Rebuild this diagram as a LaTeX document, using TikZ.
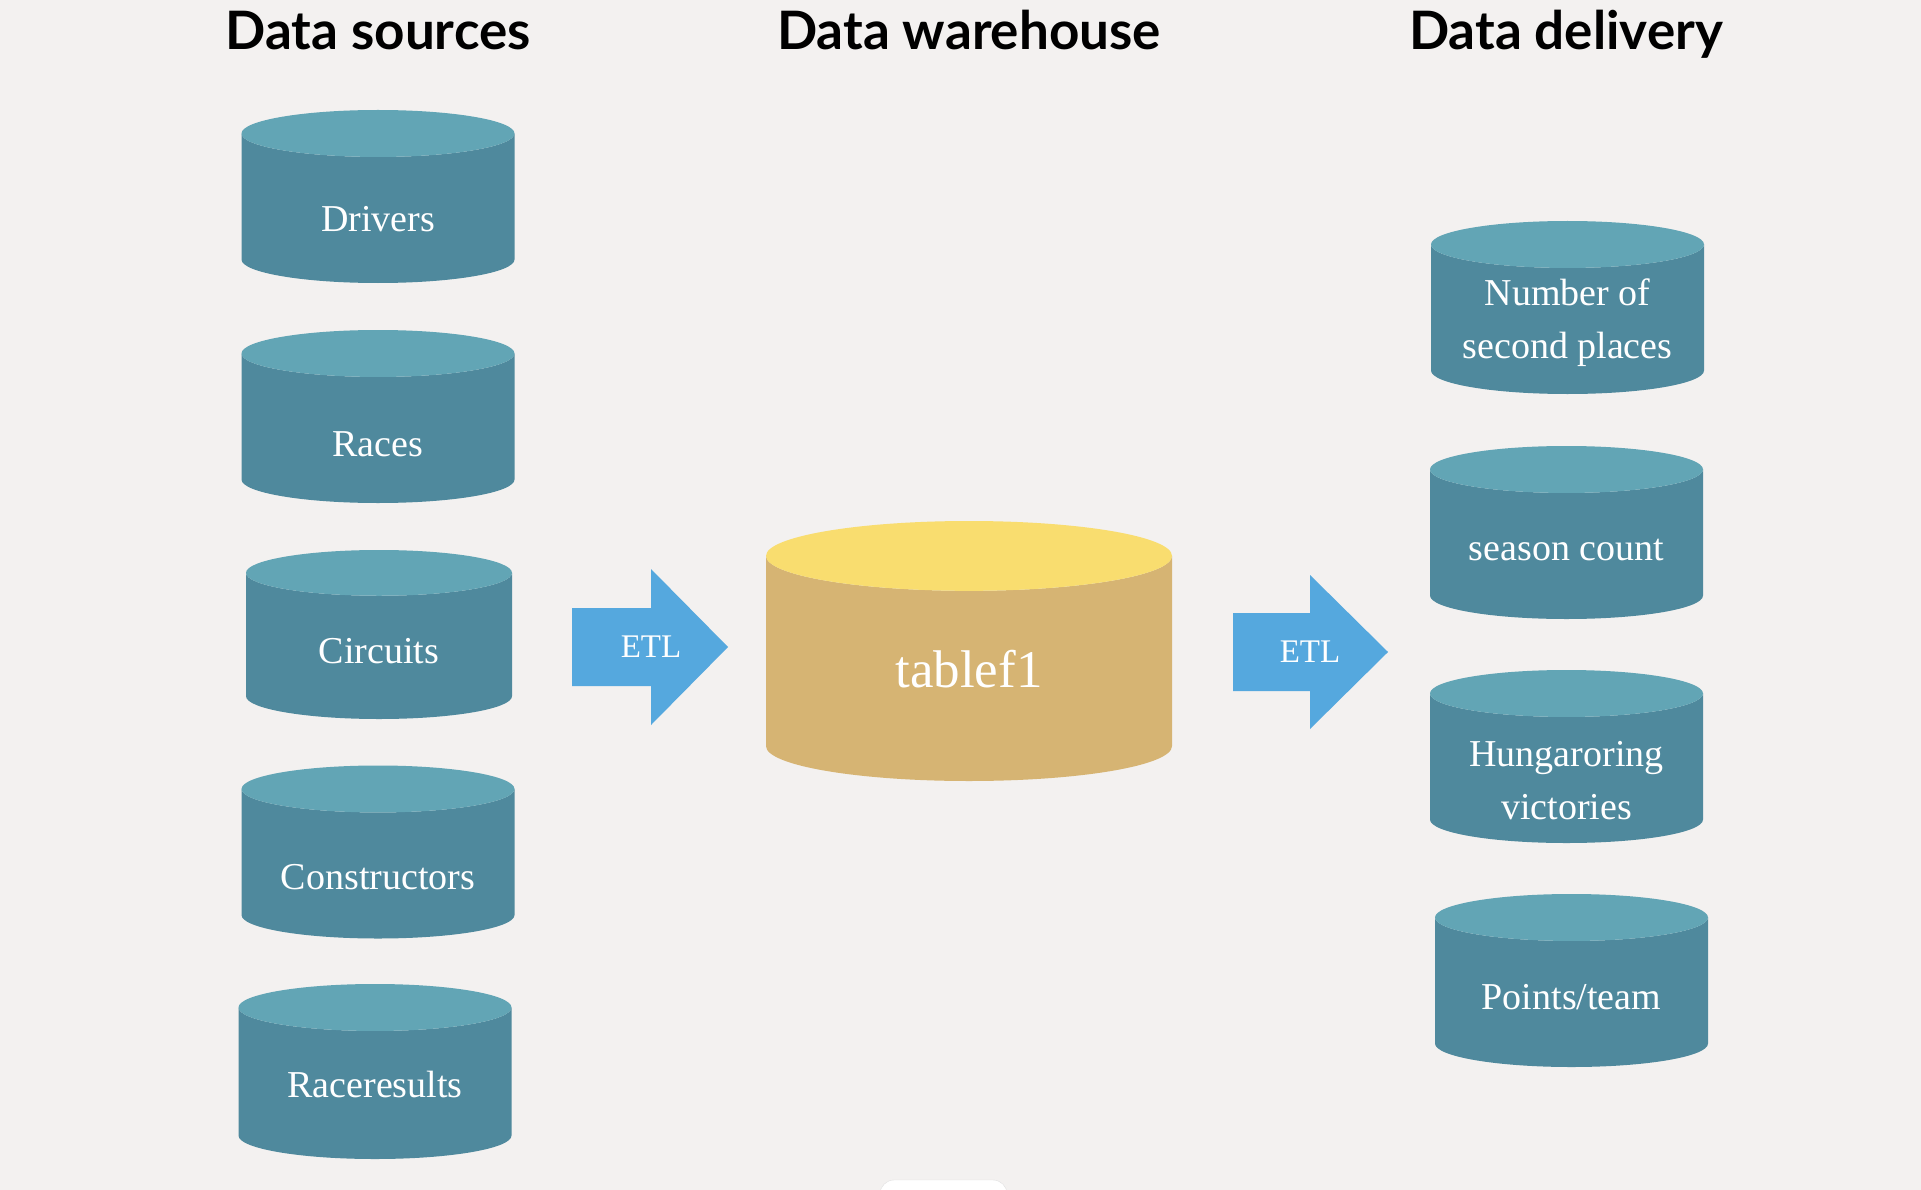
\documentclass[tikz,border=0pt]{standalone}
\usepackage{fontspec}
\setmainfont{Liberation Serif}
\newfontfamily\headfont{Lato}
\usetikzlibrary{shapes.geometric,positioning}
\definecolor{bgcol}{HTML}{F3F1F0}
\definecolor{dbside}{HTML}{4F899D}
\definecolor{dbtop}{HTML}{62A5B5}
\definecolor{whside}{HTML}{D6B473}
\definecolor{whtop}{HTML}{F9DD6F}
\definecolor{etlblue}{HTML}{55A8DE}
\begin{document}
\begin{tikzpicture}[
    x=1pt, y=-1pt,
    title/.style={font=\headfont\bfseries\fontsize{53}{60}\selectfont, anchor=base},
    db/.style={cylinder, shape border rotate=90, aspect=0.172, draw=none,
      cylinder uses custom fill, cylinder body fill=dbside,
      cylinder end fill=dbtop, text width=273pt, minimum height=173pt,
      inner sep=0pt, text=white, align=flush center, anchor=shape center,
      text height=40pt, text depth=0pt,
      font=\fontsize{38}{53}\selectfont},
    etl/.style={fill=etlblue},
    etltext/.style={text=white, inner sep=0pt, font=\fontsize{33}{40}\selectfont},
  ]
  \fill[bgcol] (0,0) rectangle (1921,1190);
  \useasboundingbox (0,0) rectangle (1921,1190);

  % column titles
  \node[title] (srcT) at (378,50) {Data sources};
  \node[title] (whT) at (969,50) {Data warehouse};
  \node[title] (delT) at (1566,50) {Data delivery};

  % data sources
  \node[db, text height=45.6pt] (drivers) at (378,196.5) {Drivers};
  \node[db, text height=55.6pt] (races) at (378,416.5) {Races};
  \node[db, text width=266pt, minimum height=169pt, text height=34.2pt]
    (circuits) at (379,634.5) {Circuits};
  \node[db, text height=51pt] (constructors) at (378,852) {Constructors};
  \node[db, minimum height=175pt, text height=28pt]
    (raceresults) at (375,1071.5) {Raceresults};

  % warehouse
  \node[db, cylinder body fill=whside, cylinder end fill=whtop,
    text width=406pt, minimum height=260pt, text height=37pt,
    font=\fontsize{53}{60}\selectfont] (tablef) at (969,651) {tablef1};

  % delivery
  \node[db, text height=24.6pt, text depth=53pt] (second) at (1567.5,307.5)
    {Number of\\second places};
  \node[db, text height=33pt] (season) at (1566.5,532.5) {season count};
  \node[db, text height=49pt, text depth=53pt] (hungaroring)
    at (1566.5,756.5) {Hungaroring\\victories};
  \node[db, text height=34pt] (points) at (1571.5,980.5) {Points/team};

  % ETL arrows
  \fill[etl] (572,608) -- (651,608) -- (651,569) -- (728,647)
    -- (651,725) -- (651,686) -- (572,686) -- cycle;
  \node[etltext] (etlA) at (651,647) {ETL};
  \fill[etl] (1233,613) -- (1310,613) -- (1310,575) -- (1388,652)
    -- (1310,729) -- (1310,691) -- (1233,691) -- cycle;
  \node[etltext] (etlB) at (1310,652) {ETL};

  \draw[fill=white, draw=black!12, rounded corners=14pt]
    (880,1180) rectangle (1007,1220);
\end{tikzpicture}
\end{document}
